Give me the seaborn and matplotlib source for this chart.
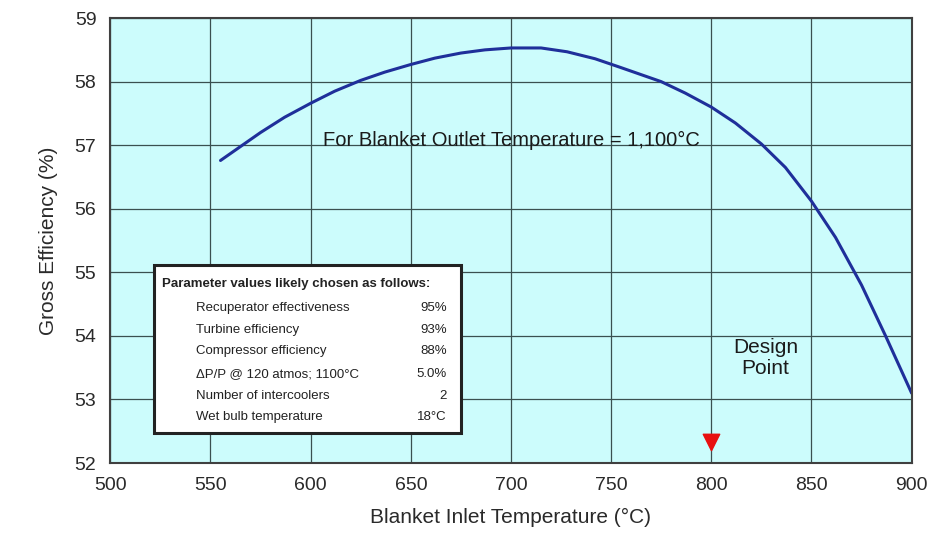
import matplotlib
matplotlib.use("Agg")
import matplotlib.pyplot as plt
import seaborn as sns
import pandas as pd

# 곡선 데이터
inlet_temp = [555, 565, 575, 587, 600, 612, 625, 637, 650, 662, 675, 687, 700, 715,
              728, 742, 755, 765, 775, 787, 800, 812, 825, 837, 850, 862, 875, 887, 900]
efficiency = [56.76, 56.98, 57.2, 57.44, 57.66, 57.85, 58.02, 58.15, 58.27, 58.37, 58.45,
              58.5, 58.53, 58.53, 58.47, 58.36, 58.22, 58.11, 58.0, 57.82, 57.6, 57.35,
              57.02, 56.65, 56.12, 55.55, 54.8, 54.0, 53.1]

design_x = [800]
design_y = [52.33]

param_names = [
    "Recuperator effectiveness",
    "Turbine efficiency",
    "Compressor efficiency",
    "\u0394P/P @ 120 atmos; 1100\u00b0C",
    "Number of intercoolers",
    "Wet bulb temperature",
]
param_values = ["95%", "93%", "88%", "5.0%", "2", "18\u00b0C"]

x_ticks = [500, 550, 600, 650, 700, 750, 800, 850, 900]
y_ticks = [52, 53, 54, 55, 56, 57, 58, 59]

sns.set_theme(style="whitegrid")
plt.rcParams["font.family"] = ["Liberation Sans", "DejaVu Sans"]

df = pd.DataFrame({"inlet": inlet_temp, "eff": efficiency})

fig = plt.figure(figsize=(9.35, 5.48), dpi=100)
ax = fig.add_axes([0.118, 0.155, 0.857, 0.812])
ax.set_facecolor("#ccfcfc")

sns.lineplot(data=df, x="inlet", y="eff", ax=ax, color="#1f2f9a", linewidth=2.2)
ax.scatter(design_x, design_y, marker="v", s=140, color="#e81010", zorder=5, clip_on=False)

ax.set_xlim(500, 900)
ax.set_ylim(52, 59)
ax.set_xticks(x_ticks)
ax.set_yticks(y_ticks)
ax.grid(True, color="#3a5050", linewidth=0.9)
for s in ax.spines.values():
    s.set_color("#404040")
    s.set_linewidth(1.5)
ax.tick_params(axis="both", labelsize=14, colors="#404040", length=4, direction="out", pad=6)
ax.tick_params(axis="both", labelcolor="#2a2a2a")

ax.set_xlabel("Blanket Inlet Temperature (\u00b0C)", fontsize=15, color="#2a2a2a", labelpad=10)
ax.set_ylabel("Gross Efficiency (%)", fontsize=15, color="#2a2a2a", labelpad=12)

ax.text(606, 57.08, "For Blanket Outlet Temperature = 1,100\u00b0C", fontsize=14.5,
        color="#1a1a1a", va="center", ha="left")
ax.text(827, 53.65, "Design\nPoint", fontsize=15, color="#1a1a1a", ha="center", va="center",
        linespacing=1.1)

# 파라미터 박스
box = plt.Rectangle((522, 52.48), 153, 2.64, facecolor="white", edgecolor="#222222",
                    linewidth=2.2, zorder=4)
ax.add_patch(box)
ax.text(526, 54.82, "Parameter values likely chosen as follows:", fontsize=9.5,
        color="#222222", fontweight="bold", va="center", ha="left", zorder=6)
row_y = [54.44, 54.1, 53.76, 53.4, 53.06, 52.72]
for name, val, yy in zip(param_names, param_values, row_y):
    ax.text(543, yy, name, fontsize=9.5, color="#222222", va="center", ha="left", zorder=6)
    ax.text(668, yy, val, fontsize=9.5, color="#222222", va="center", ha="right", zorder=6)

fig.savefig("out.png", dpi=100, facecolor="white")
